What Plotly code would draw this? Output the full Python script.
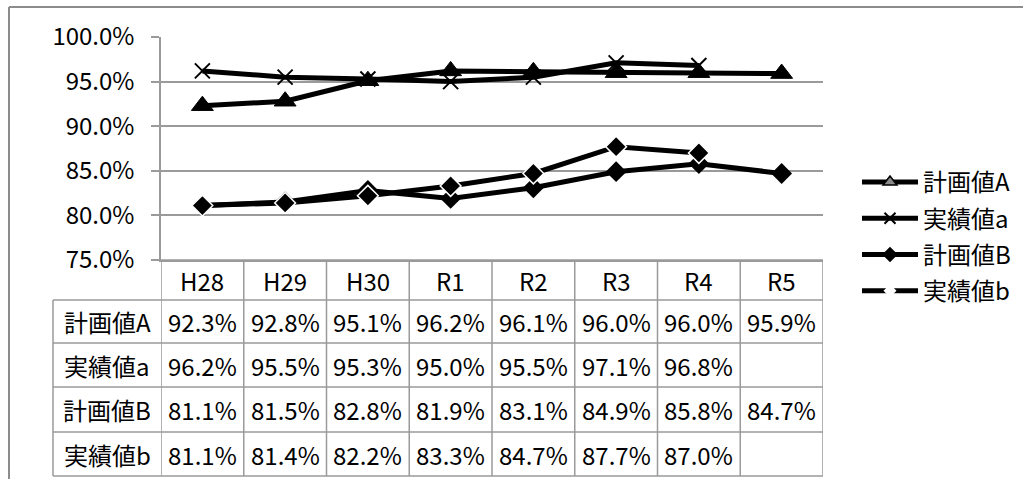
import plotly.graph_objects as go

# ---------------- data ----------------
categories = ["H28", "H29", "H30", "R1", "R2", "R3", "R4", "R5"]
plan_A = [92.3, 92.8, 95.1, 96.2, 96.1, 96.0, 96.0, 95.9]
actual_a = [96.2, 95.5, 95.3, 95.0, 95.5, 97.1, 96.8, None]
plan_B = [81.1, 81.5, 82.8, 81.9, 83.1, 84.9, 85.8, 84.7]
actual_b = [81.1, 81.4, 82.2, 83.3, 84.7, 87.7, 87.0, None]
series_names = ["計画値A", "実績値a", "計画値B", "実績値b"]
y_ticks = [75, 80, 85, 90, 95, 100]

# ---------------- geometry (pixels) ----------------
W, H = 1032, 479
FONT = "Noto Sans CJK JP"
FS = 24
GRID = "#9a9a9a"
BLACK = "#000000"
PL, PR, PT, PB = 161, 823, 37, 260
row_edges = [260, 300, 343, 387, 432, 476]
label_left = 53


def px_x(p):
    return p / W


def px_y(p):
    return 1 - p / H


fig = go.Figure()

series_vals = [plan_A, actual_a, plan_B, actual_b]
marker_styles = [
    dict(symbol="triangle-up", size=19, color=BLACK, line=dict(color=BLACK, width=1)),
    dict(symbol="x-thin", size=15, color=BLACK, line=dict(color=BLACK, width=2)),
    dict(symbol="diamond", size=16, color=BLACK, line=dict(color=BLACK, width=0)),
    dict(symbol="diamond", size=16, color=BLACK, line=dict(color="#ffffff", width=1.5)),
]
for name, vals, mk in zip(series_names, series_vals, marker_styles):
    fig.add_trace(go.Scatter(
        x=categories, y=vals, name=name, mode="lines+markers",
        line=dict(color=BLACK, width=5), marker=mk, showlegend=False,
        connectgaps=False, hoverinfo="skip",
    ))

# legend-only entries (styled as in the reference legend)
legend_markers = [
    dict(symbol="triangle-up", size=12, color="#8a8a8a", line=dict(color=BLACK, width=1.5)),
    dict(symbol="x-thin", size=11, color=BLACK, line=dict(color=BLACK, width=2)),
    dict(symbol="diamond", size=12, color=BLACK, line=dict(color=BLACK, width=0)),
    dict(symbol="diamond", size=10, color="#ffffff", line=dict(color="#ffffff", width=0)),
]
for i, (name, mk) in enumerate(zip(series_names, legend_markers)):
    fig.add_trace(go.Scatter(
        x=[None], y=[None], name=name, mode="lines+markers", legendgroup=f"g{i}",
        line=dict(color=BLACK, width=5), marker=mk, showlegend=True,
    ))

shapes = []
lw = 1.5
# outer frame (top and left)
shapes.append(dict(type="line", xref="paper", yref="paper", x0=px_x(9), x1=px_x(1023),
                   y0=px_y(7), y1=px_y(7), line=dict(color="#8c8c8c", width=2)))
shapes.append(dict(type="line", xref="paper", yref="paper", x0=px_x(9), x1=px_x(9),
                   y0=px_y(7), y1=0, line=dict(color="#8c8c8c", width=2)))
# table horizontal lines
for i, e in enumerate(row_edges):
    x0 = PL if i == 0 else label_left
    shapes.append(dict(type="line", xref="paper", yref="paper", x0=px_x(x0), x1=px_x(PR),
                       y0=px_y(e), y1=px_y(e), line=dict(color=GRID, width=lw)))
# table vertical lines at category boundaries
for i in range(len(categories) + 1):
    shapes.append(dict(type="line", xref="x", yref="paper", x0=i - 0.5, x1=i - 0.5,
                       y0=px_y(row_edges[0]), y1=px_y(row_edges[-1]),
                       line=dict(color=GRID, width=lw)))
shapes.append(dict(type="line", xref="paper", yref="paper", x0=px_x(label_left), x1=px_x(label_left),
                   y0=px_y(row_edges[1]), y1=px_y(row_edges[-1]), line=dict(color=GRID, width=lw)))

annotations = []
tf = dict(family=FONT, size=FS, color=BLACK)
hc = (row_edges[0] + row_edges[1]) / 2
for c in categories:
    annotations.append(dict(x=c, xref="x", y=px_y(hc), yref="paper", text=c, showarrow=False,
                            font=tf, xanchor="center", yanchor="middle"))
for r, (name, vals) in enumerate(zip(series_names, series_vals)):
    yc = (row_edges[r + 1] + row_edges[r + 2]) / 2
    annotations.append(dict(x=px_x((label_left + PL) / 2), xref="paper", y=px_y(yc), yref="paper",
                            text=name, showarrow=False, font=tf, xanchor="center", yanchor="middle"))
    for c, v in zip(categories, vals):
        if v is None:
            continue
        annotations.append(dict(x=c, xref="x", y=px_y(yc), yref="paper", text=f"{v:.1f}%",
                                showarrow=False, font=tf, xanchor="center", yanchor="middle"))

fig.update_layout(
    width=W, height=H,
    margin=dict(l=0, r=0, t=0, b=0, autoexpand=False),
    paper_bgcolor="white", plot_bgcolor="white",
    font=dict(family=FONT, size=FS, color=BLACK),
    shapes=shapes, annotations=annotations,
    showlegend=True,
    legend=dict(x=px_x(857), xanchor="left", y=px_y(160), yanchor="top",
                font=dict(family=FONT, size=FS, color=BLACK), itemwidth=56,
                bgcolor="rgba(0,0,0,0)", traceorder="grouped", tracegroupgap=2),
    xaxis=dict(domain=[px_x(PL), px_x(PR)], type="category", categoryorder="array",
               categoryarray=categories, range=[-0.5, len(categories) - 0.5],
               showticklabels=False, ticks="", showgrid=False, zeroline=False,
               showline=True, linecolor=GRID, linewidth=lw, fixedrange=True,
               automargin=False),
    yaxis=dict(domain=[px_y(PB), px_y(PT)], range=[75, 100], tickmode="array",
               tickvals=y_ticks, ticktext=[f"{t:.1f}%" for t in y_ticks],
               showgrid=True, gridcolor=GRID, gridwidth=lw,
               ticks="outside", ticklen=8, tickcolor=GRID, tickwidth=lw,
               showline=True, linecolor=GRID, linewidth=lw, zeroline=False,
               tickfont=dict(family=FONT, size=FS, color=BLACK), ticklabelstandoff=12,
               fixedrange=True, automargin=False),
)

fig.write_html("out.html", config={"displayModeBar": False},
               post_script="document.body.style.margin='0';")
